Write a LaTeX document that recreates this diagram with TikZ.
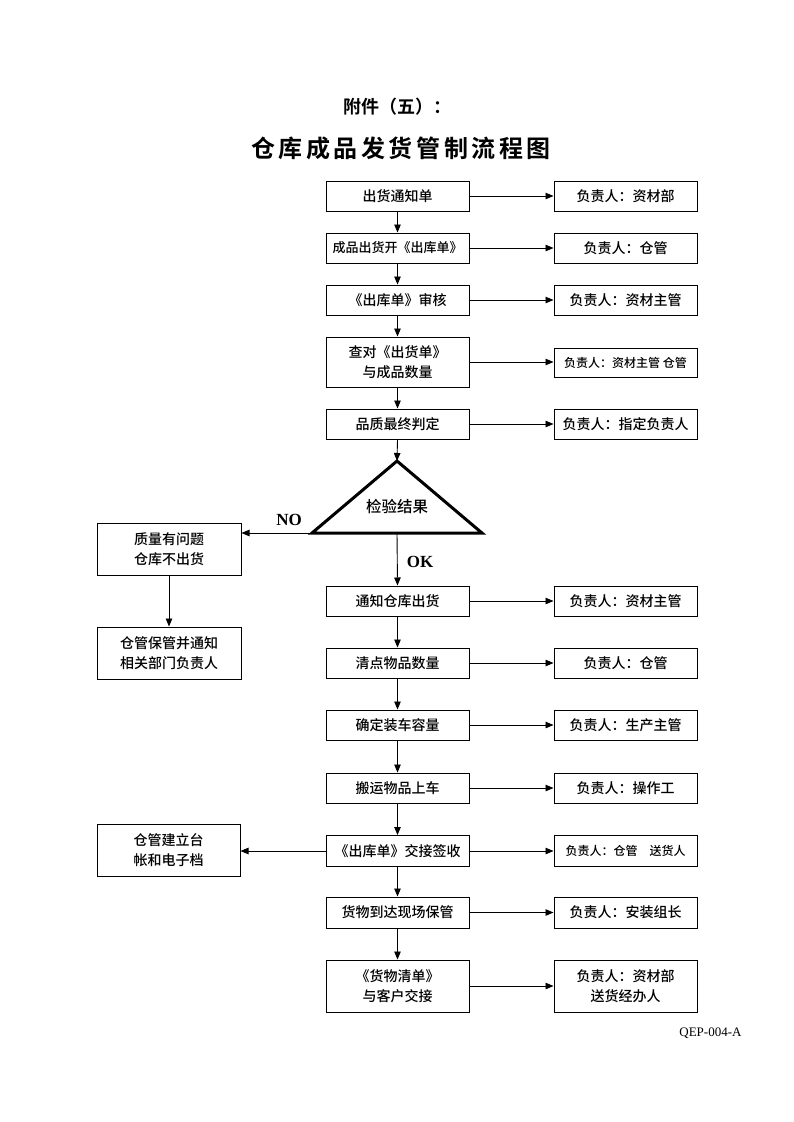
\documentclass[tikz,border=0pt]{standalone}
\usepackage{fontspec}
\usetikzlibrary{arrows.meta}
\setmainfont{Liberation Serif}
\newfontfamily\cjk{Noto Sans CJK SC Medium}[BoldFont={Noto Sans CJK SC Bold}]
\newfontfamily\cjkt{Noto Sans CJK SC Bold}[LetterSpace=15]
\begin{document}
\begin{tikzpicture}[x=1pt,y=-1pt,
  box/.style={draw,line width=1pt,minimum width=143pt,minimum height=30pt,inner sep=1pt,
    font=\cjk\fontsize{14}{20}\selectfont,align=center},
  rbox/.style={box},
  small/.style={font=\cjk\fontsize{12}{16}\selectfont},
  arr/.style={-{Triangle[length=8pt,width=6.5pt]},line width=0.9pt},
  lbl/.style={font=\bfseries\fontsize{17}{20}\selectfont}]
\useasboundingbox[fill=white] (0,0) rectangle (793,1122);
% titles
\node[font=\cjk\bfseries\fontsize{18}{20}\selectfont] (t1) at (397,107) {附件（五）：};
\node[font=\cjkt\fontsize{24}{26}\selectfont] (t2) at (401,148) {仓库成品发货管制流程图};
% main column
\node[box] (m1) at (397.5,196) {出货通知单};
\node[box,font=\cjk\fontsize{13}{18}\selectfont] (m2) at (397.5,248) {成品出货开《出库单》};
\node[box] (m3) at (397.5,300) {《出库单》审核};
\node[box,minimum height=50pt] (m4) at (397.5,362) {查对《出货单》\\与成品数量};
\node[box] (m5) at (397.5,424) {品质最终判定};
\node[box] (m6) at (397.5,601) {通知仓库出货};
\node[box] (m7) at (397.5,663) {清点物品数量};
\node[box] (m8) at (397.5,725) {确定装车容量};
\node[box] (m9) at (397.5,788) {搬运物品上车};
\node[box,minimum height=31pt] (m10) at (397.5,851) {《出库单》交接签收};
\node[box,minimum height=31pt] (m11) at (397.5,912.5) {货物到达现场保管};
\node[box,minimum height=52pt] (m12) at (397.5,986) {《货物清单》\\与客户交接};
% right column
\node[rbox] (r1) at (625.5,196) {负责人：资材部};
\node[rbox] (r2) at (625.5,248) {负责人：仓管};
\node[rbox] (r3) at (625.5,300) {负责人：资材主管};
\node[rbox,minimum height=29pt,small] (r4) at (625.5,362.5) {负责人：资材主管\ 仓管};
\node[rbox] (r5) at (625.5,424) {负责人：指定负责人};
\node[rbox] (r6) at (625.5,601) {负责人：资材主管};
\node[rbox] (r7) at (625.5,663) {负责人：仓管};
\node[rbox] (r8) at (625.5,725) {负责人：生产主管};
\node[rbox] (r9) at (625.5,788) {负责人：操作工};
\node[rbox,minimum height=31pt,small] (r10) at (625.5,851) {负责人：仓管\quad 送货人};
\node[rbox,minimum height=31pt] (r11) at (625.5,912.5) {负责人：安装组长};
\node[rbox,minimum height=52pt] (r12) at (625.5,986) {负责人：资材部\\送货经办人};
% left column
\node[box,minimum width=144pt,minimum height=52pt] (l1) at (169,549) {质量有问题\\仓库不出货};
\node[box,minimum width=144pt,minimum height=52pt] (l2) at (169,653) {仓管保管并通知\\相关部门负责人};
\node[box,minimum width=143pt,minimum height=52pt] (l3) at (168.5,850) {仓管建立台\\帐和电子档};
% decision triangle
\coordinate (ta) at (397,461);
\coordinate (tl) at (312,533);
\coordinate (tr) at (482,533);
\coordinate (tb) at (397,533);
\draw[line width=3pt,line join=miter] (ta) -- (tr) -- (tl) -- cycle;
\node[font=\cjk\fontsize{15.5}{17}\selectfont] (tt) at (397,507) {检验结果};
\node[lbl] (no) at (289,520) {NO};
\node[lbl] (ok) at (420,562) {OK};
% vertical arrows
\draw[arr] (m1) -- (m2);
\draw[arr] (m2) -- (m3);
\draw[arr] (m3) -- (m4);
\draw[arr] (m4) -- (m5);
\draw[arr] (m5.south) -- (ta);
\draw[arr] (tb) -- (m6.north);
\draw[arr] (m6) -- (m7);
\draw[arr] (m7) -- (m8);
\draw[arr] (m8) -- (m9);
\draw[arr] (m9) -- (m10);
\draw[arr] (m10) -- (m11);
\draw[arr] (m11) -- (m12);
\draw[arr] (l1) -- (l2);
% horizontal arrows
\foreach \i in {1,...,12} {\draw[arr] (m\i.east) -- (r\i.west |- m\i.east);}
\draw[arr] (tl) -- (l1.east |- tl);
\draw[arr] (m10.west) -- (l3.east |- m10.west);
% code
\node[font=\fontsize{13}{15}\selectfont,anchor=east] (code) at (745,1033) {QEP-004-A};
\end{tikzpicture}
\end{document}
